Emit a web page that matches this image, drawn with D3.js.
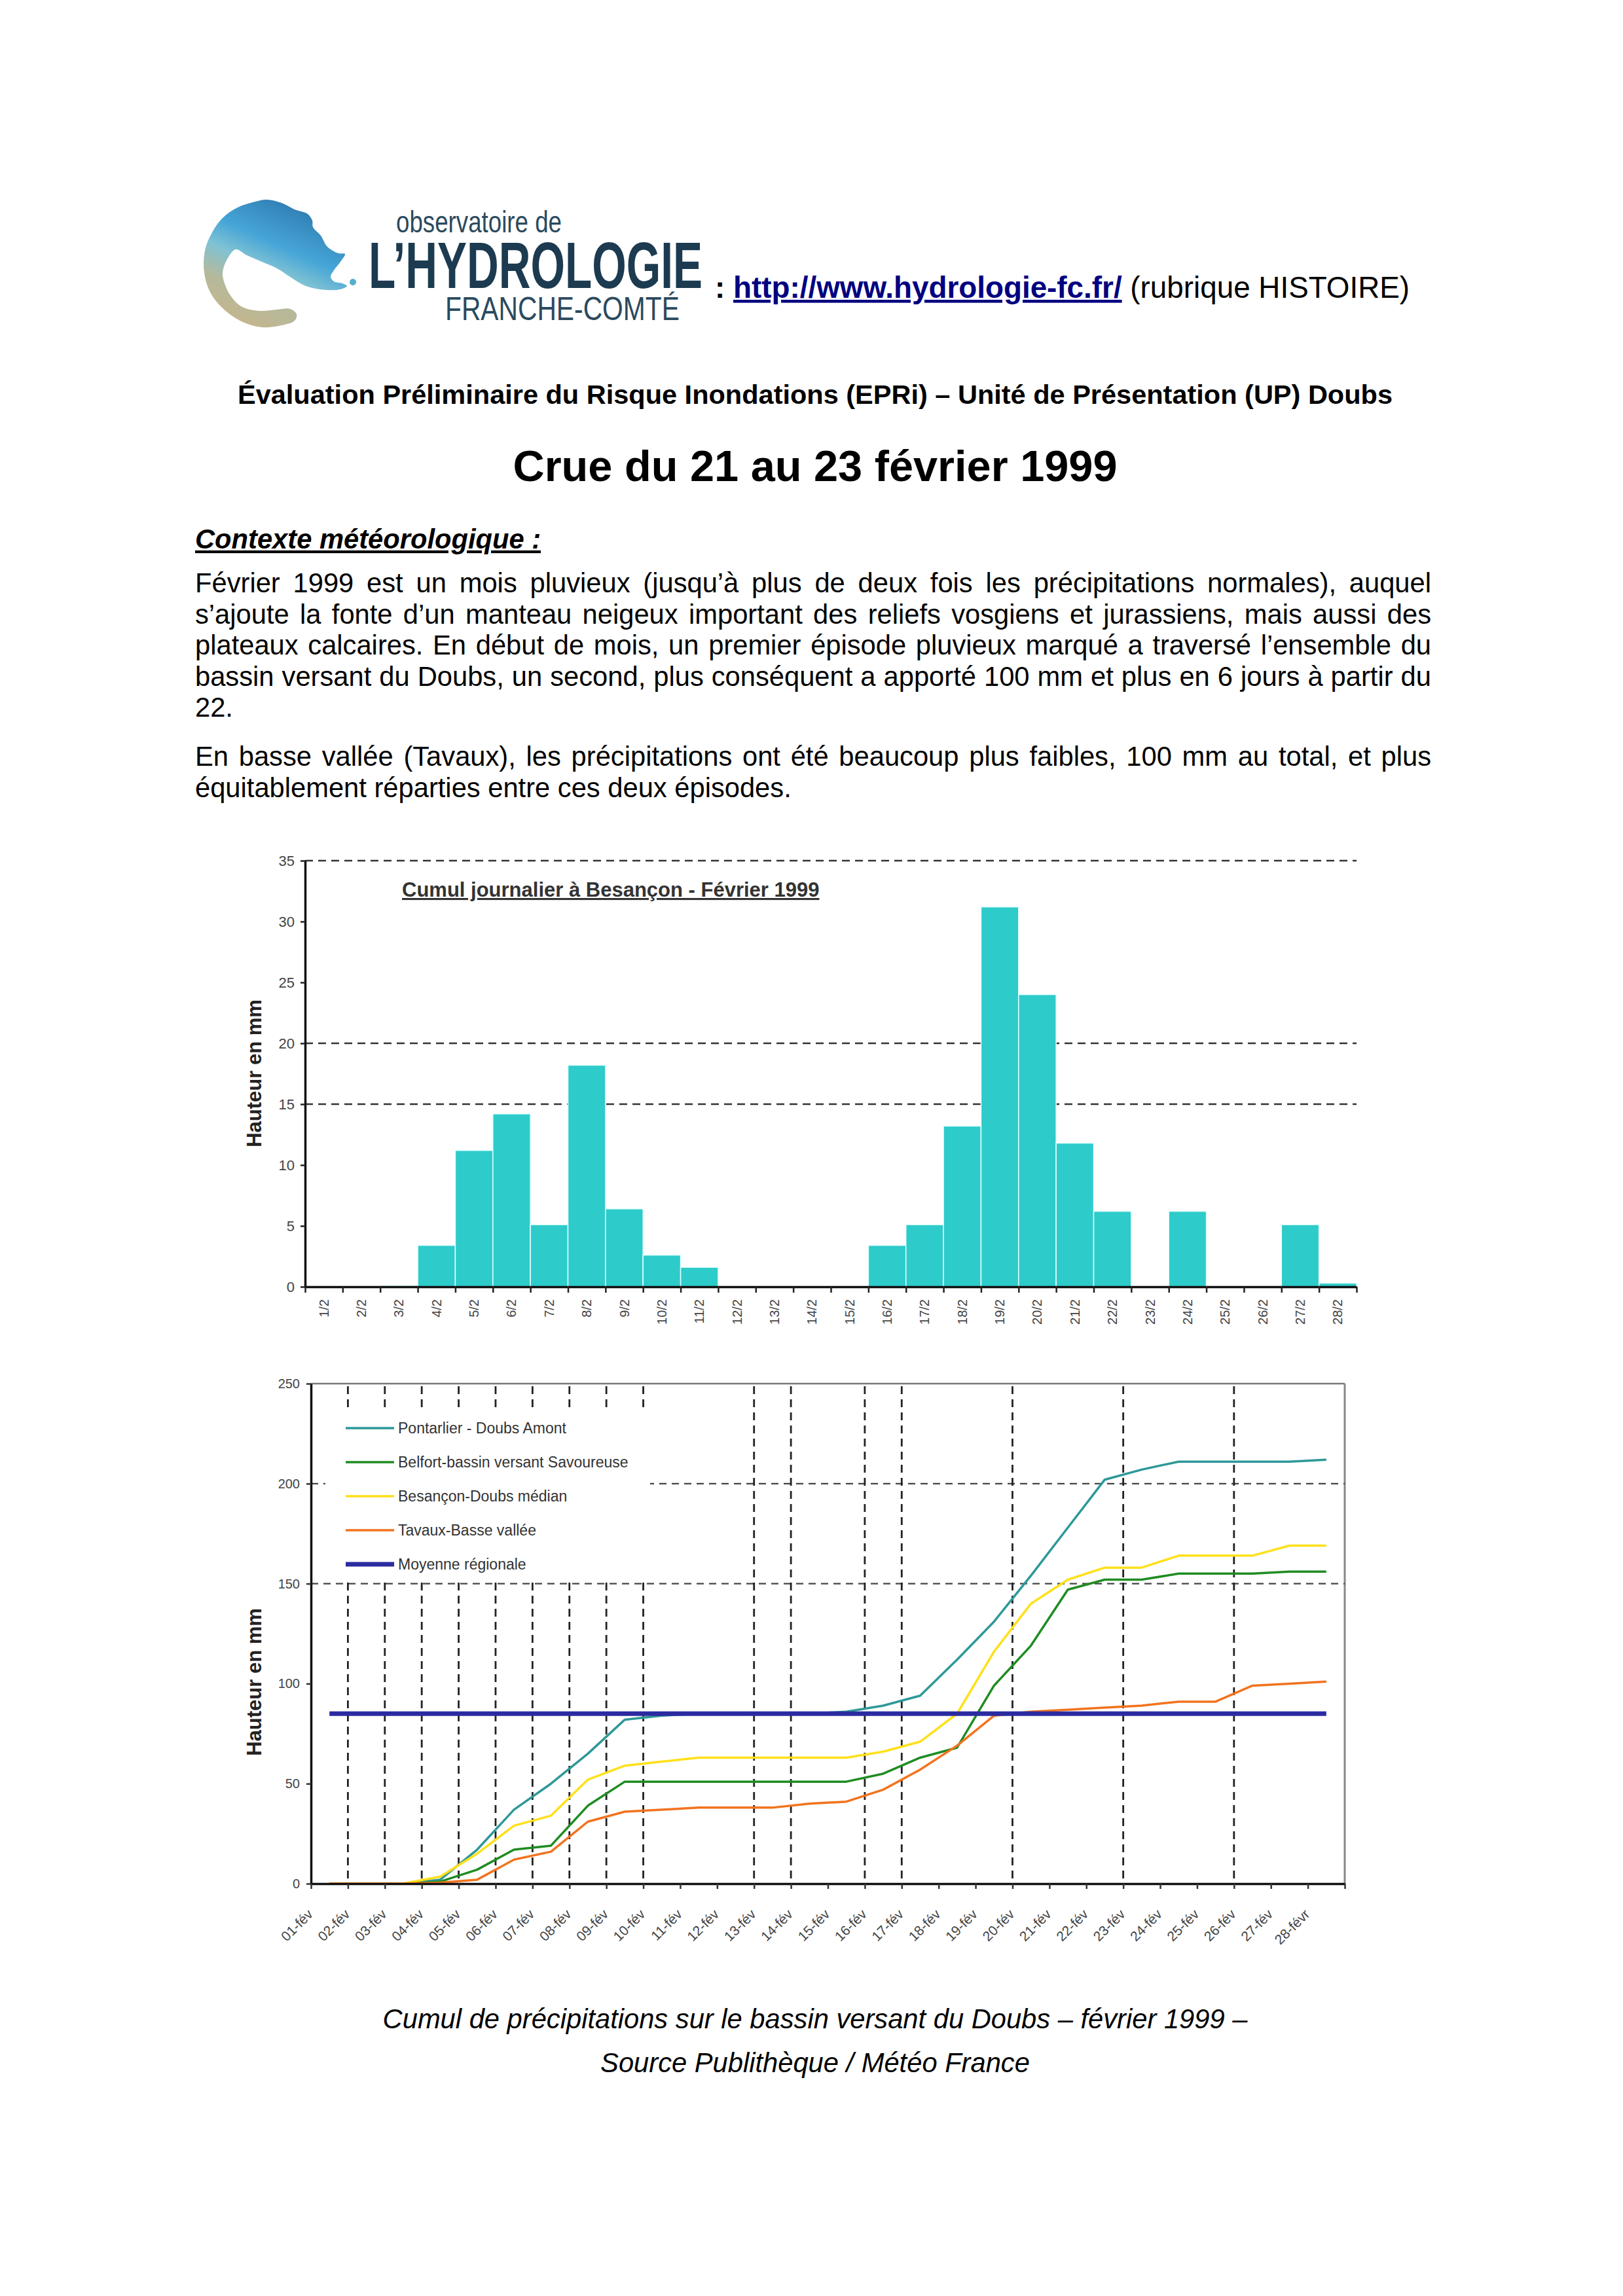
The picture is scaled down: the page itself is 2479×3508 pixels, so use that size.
<!DOCTYPE html>
<html>
<head>
<meta charset="utf-8">
<script src="https://cdn.jsdelivr.net/npm/d3@7"></script>
<style>
body { margin: 0; background: #fff; }
svg { display: block; }
text { font-family: "Liberation Sans", Arial, sans-serif; }
</style>
</head>
<body>
<script>
// --- bar chart : cumul journalier Besançon
var barDays = ["1/2","2/2","3/2","4/2","5/2","6/2","7/2","8/2","9/2","10/2","11/2","12/2","13/2","14/2",
               "15/2","16/2","17/2","18/2","19/2","20/2","21/2","22/2","23/2","24/2","25/2","26/2","27/2","28/2"];
var besanconDaily = [0, 0, 0.1, 3.4, 11.2, 14.2, 5.1, 18.2, 6.4, 2.6, 1.6, 0, 0, 0,
                     0, 3.4, 5.1, 13.2, 31.2, 24.0, 11.8, 6.2, 0, 6.2, 0, 0, 5.1, 0.3];
var barTicks = [0, 5, 10, 15, 20, 25, 30, 35];
var barGrid = [15, 20, 35];

// --- line chart : cumul de précipitations
var lineDays = ["01-fév","02-fév","03-fév","04-fév","05-fév","06-fév","07-fév","08-fév","09-fév","10-fév",
                "11-fév","12-fév","13-fév","14-fév","15-fév","16-fév","17-fév","18-fév","19-fév","20-fév",
                "21-fév","22-fév","23-fév","24-fév","25-fév","26-fév","27-fév","28-févr"];
var pontarlier = [0, 0, 0, 2, 17, 37, 50, 65, 82, 84, 85, 85, 85, 85,
                  86, 89, 94, 112, 131, 154, 178, 202, 207, 211, 211, 211, 211, 212];
var belfort = [0, 0, 0, 1, 7, 17, 19, 39, 51, 51, 51, 51, 51, 51,
               51, 55, 63, 68, 99, 119, 147, 152, 152, 155, 155, 155, 156, 156];
var besancon = [0, 0, 0.1, 3.5, 15, 29, 34, 52, 59, 61, 63, 63, 63, 63,
                63, 66, 71, 85, 116, 140, 152, 158, 158, 164, 164, 164, 169, 169];
var tavaux = [0, 0, 0, 0.5, 2, 12, 16, 31, 36, 37, 38, 38, 38, 40,
              41, 47, 57, 69, 84, 86, 87, 88, 89, 91, 91, 99, 100, 101];
var moyenne = [85, 85, 85, 85, 85, 85, 85, 85, 85, 85, 85, 85, 85, 85,
               85, 85, 85, 85, 85, 85, 85, 85, 85, 85, 85, 85, 85, 85];
var seriesNames = ["Pontarlier - Doubs Amont", "Belfort-bassin versant Savoureuse", "Besançon-Doubs médian",
                   "Tavaux-Basse vallée", "Moyenne régionale"];
var seriesValues = [pontarlier, belfort, besancon, tavaux, moyenne];
var seriesColors = ["#2e9898", "#1f8c22", "#ffe01a", "#f2731e", "#2b2ba0"];
var lineTicks = [0, 50, 100, 150, 200, 250];
var lineHGrid = [150, 200];
var lineVGrid = [1, 2, 3, 4, 5, 6, 7, 8, 9, 12, 13, 15, 16, 19, 22, 25];

var para1 = ["Février 1999 est un mois pluvieux (jusqu’à plus de deux fois les précipitations normales), auquel",
             "s’ajoute la fonte d’un manteau neigeux important des reliefs vosgiens et jurassiens, mais aussi des",
             "plateaux calcaires. En début de mois, un premier épisode pluvieux marqué a traversé l’ensemble du",
             "bassin versant du Doubs, un second, plus conséquent a apporté 100 mm et plus en 6 jours à partir du",
             "22."];
var para2 = ["En basse vallée (Tavaux), les précipitations ont été beaucoup plus faibles, 100 mm au total, et plus",
             "équitablement réparties entre ces deux épisodes."];

var w = 2479, h = 3508;
var svg = d3.select("body").append("svg").attr("width", w).attr("height", h);
svg.append("rect").attr("width", w).attr("height", h).attr("fill", "#fff");

// ---------- header / logo
var defs = svg.append("defs");
var grad = defs.append("linearGradient").attr("id", "logoGrad")
    .attr("x1", 0.75).attr("y1", 0).attr("x2", 0.25).attr("y2", 1);
[["0", "#2a74aa"], ["0.38", "#47a6d7"], ["0.55", "#80c2d3"], ["0.75", "#b5b99c"], ["1", "#c5b58c"]]
    .forEach(function(s){ grad.append("stop").attr("offset", s[0]).attr("stop-color", s[1]); });

// logo outline (C-shaped ring with the blue "head" to the right)
var logoOutline = [[340,333],[363,317],[390,308],[407,305],[430,310],[450,320],[470,327],[477,337],
                   [478,347],[490,360],[500,377],[517,387],[527,388],[520,400],[510,413],[505,423],
                   [510,430],[523,433],[530,437],[520,442],[497,443],[467,437],[443,423],[423,410],
                   [400,400],[377,390],[360,381],[346,398],[340,417],[343,433],[353,453],[370,469],
                   [397,475],[423,473],[443,472],[453,480],[450,490],[430,497],[400,500],[373,493],
                   [347,477],[323,450],[312,417],[313,383],[323,357]];
svg.append("path")
    .attr("d", d3.line().curve(d3.curveCatmullRomClosed.alpha(0.5))(logoOutline))
    .attr("fill", "url(#logoGrad)");
svg.append("circle").attr("cx", 539).attr("cy", 431).attr("r", 5).attr("fill", "#55aecb");

// condensed logo lettering: squeeze the glyphs horizontally to the measured width
var narrow = "'Liberation Sans Narrow', 'Liberation Sans', Arial, sans-serif";
function logoText(str, x, y, size, width, weight, color) {
    var t = svg.append("text").attr("font-size", size).attr("font-weight", weight)
        .attr("font-family", narrow).attr("fill", color).text(str);
    var nat = t.node().getComputedTextLength();
    t.attr("transform", "translate(" + x + "," + y + ") scale(" + (width / nat) + ",1)");
}
logoText("observatoire de", 605, 355, 46, 253, "normal", "#2b4a5e");
logoText("L’HYDROLOGIE", 563, 440, 100, 510, "bold", "#1c3a50");
logoText("FRANCHE-COMTÉ", 680, 489, 50, 358, "normal", "#2b4a5e");

var url = svg.append("text").attr("x", 1092).attr("y", 455).attr("font-size", 45.8);
url.append("tspan").attr("font-weight", "bold").text(": ");
url.append("tspan").attr("font-weight", "bold").attr("fill", "#000080")
    .style("text-decoration", "underline").text("http://www.hydrologie-fc.fr/");
url.append("tspan").text(" (rubrique HISTOIRE)");

svg.append("text").attr("x", 1245).attr("y", 617).attr("text-anchor", "middle")
    .attr("font-size", 41.5).attr("font-weight", "bold")
    .text("Évaluation Préliminaire du Risque Inondations (EPRi) – Unité de Présentation (UP) Doubs");
svg.append("text").attr("x", 1245).attr("y", 735).attr("text-anchor", "middle")
    .attr("font-size", 66.7).attr("font-weight", "bold")
    .text("Crue du 21 au 23 février 1999");
svg.append("text").attr("x", 298).attr("y", 838).attr("font-size", 41.7)
    .attr("font-weight", "bold").attr("font-style", "italic").style("text-decoration", "underline")
    .text("Contexte météorologique :");

// justified paragraphs
var textLeft = 298, textWidth = 1888;
function writePara(lines, y0) {
    lines.forEach(function(line, i) {
        var t = svg.append("text").attr("x", textLeft).attr("y", y0 + i * 47.5)
            .attr("font-size", 41.7).text(line);
        if (i < lines.length - 1) {
            var n = line.split(" ").length - 1;
            var ws = 0;
            for (var k = 0; k < 4; k++) {
                var lw = t.node().getBBox().width;
                ws += (textWidth - lw) / n;
                t.style("word-spacing", ws + "px");
            }
        }
    });
}
writePara(para1, 905);
writePara(para2, 1170);

// ---------- bar chart
var bx = d3.scaleBand().domain(barDays).range([466, 2072]).padding(0);
var bxi = d3.scaleLinear().domain([0, barDays.length]).range([466, 2072]);
var by = d3.scaleLinear().domain([0, 35]).range([1966, 1315]);

svg.append("g").selectAll("line").data(barGrid).enter().append("line")
    .attr("x1", 466).attr("x2", 2072)
    .attr("y1", function(d){ return by(d); }).attr("y2", function(d){ return by(d); })
    .attr("stroke", "#333").attr("stroke-width", 2.5).attr("stroke-dasharray", "12,8");

svg.append("g").selectAll("rect").data(besanconDaily).enter().append("rect")
    .attr("x", function(d, i){ return bx(barDays[i]); })
    .attr("y", function(d){ return by(d); })
    .attr("width", bx.bandwidth())
    .attr("height", function(d){ return by(0) - by(d); })
    .attr("fill", "#2ecbcb")
    .attr("stroke", "#e6ffff").attr("stroke-width", 1.5);

var byAxis = svg.append("g").attr("transform", "translate(466,0)")
    .call(d3.axisLeft(by).tickValues(barTicks).tickSize(7).tickSizeOuter(0).tickPadding(9));
var bxAxis = svg.append("g").attr("transform", "translate(0,1966)")
    .call(d3.axisBottom(bxi).tickValues(d3.range(barDays.length + 1)).tickSize(9)
          .tickSizeOuter(0).tickFormat(""));
[byAxis, bxAxis].forEach(function(g){
    g.select(".domain").attr("stroke", "#111").attr("stroke-width", 3.5);
    g.selectAll(".tick line").attr("stroke", "#222").attr("stroke-width", 2.5);
    g.selectAll("text").attr("font-size", 22).attr("fill", "#444")
        .attr("font-family", "'Liberation Sans', Arial, sans-serif");
});

svg.append("g").selectAll("text").data(barDays).enter().append("text")
    .attr("transform", function(d){ return "translate(" + (bx(d) + bx.bandwidth() / 2) + ",1985) rotate(-90)"; })
    .attr("text-anchor", "end").attr("dominant-baseline", "central")
    .attr("font-size", 20).attr("fill", "#444")
    .text(function(d){ return d; });

svg.append("text").attr("x", 614).attr("y", 1370).attr("font-size", 31).attr("font-weight", "bold")
    .attr("fill", "#333").style("text-decoration", "underline")
    .text("Cumul journalier à Besançon - Février 1999");
svg.append("text").attr("transform", "translate(388,1640) rotate(-90)")
    .attr("text-anchor", "middle").attr("dominant-baseline", "central")
    .attr("font-size", 31).attr("font-weight", "bold").attr("fill", "#222")
    .text("Hauteur en mm");

// ---------- line chart
var lx = d3.scaleBand().domain(lineDays).range([475, 2054]).padding(0);
var lxi = d3.scaleLinear().domain([0, lineDays.length]).range([475, 2054]);
var ly = d3.scaleLinear().domain([0, 250]).range([2878, 2114]);

// plot frame top / right
svg.append("line").attr("x1", lxi(0)).attr("x2", lxi(28)).attr("y1", ly(250)).attr("y2", ly(250))
    .attr("stroke", "#777").attr("stroke-width", 2.5);
svg.append("line").attr("x1", lxi(28)).attr("x2", lxi(28)).attr("y1", ly(250)).attr("y2", ly(0))
    .attr("stroke", "#888").attr("stroke-width", 3);

svg.append("g").selectAll("line").data(lineHGrid).enter().append("line")
    .attr("x1", lxi(0)).attr("x2", lxi(28))
    .attr("y1", function(d){ return ly(d); }).attr("y2", function(d){ return ly(d); })
    .attr("stroke", "#444").attr("stroke-width", 2.2).attr("stroke-dasharray", "11,8");
svg.append("g").selectAll("line").data(lineVGrid).enter().append("line")
    .attr("x1", function(d){ return lxi(d); }).attr("x2", function(d){ return lxi(d); })
    .attr("y1", ly(250) + 4).attr("y2", ly(0))
    .attr("stroke", "#222").attr("stroke-width", 2.8).attr("stroke-dasharray", "12,8");

// legend box hides the grid behind it
svg.append("rect").attr("x", 497).attr("y", 2152).attr("width", 496).attr("height", 264).attr("fill", "#fff");

var line = d3.line()
    .x(function(d, i){ return lx(lineDays[i]) + lx.bandwidth() / 2; })
    .y(function(d){ return ly(d); });
seriesValues.forEach(function(vals, k){
    svg.append("path").attr("d", line(vals)).attr("fill", "none")
        .attr("stroke", seriesColors[k]).attr("stroke-width", k === 4 ? 7 : 3.5)
        .attr("stroke-linejoin", "round");
});

var lyAxis = svg.append("g").attr("transform", "translate(475,0)")
    .call(d3.axisLeft(ly).tickValues(lineTicks).tickSize(7).tickSizeOuter(0).tickPadding(10));
var lxAxis = svg.append("g").attr("transform", "translate(0," + ly(0) + ")")
    .call(d3.axisBottom(lxi).tickValues(d3.range(lineDays.length + 1)).tickSize(8)
          .tickSizeOuter(0).tickFormat(""));
[lyAxis, lxAxis].forEach(function(g){
    g.select(".domain").attr("stroke", "#111").attr("stroke-width", 3.5);
    g.selectAll(".tick line").attr("stroke", "#333").attr("stroke-width", 2.5);
    g.selectAll("text").attr("font-size", 20).attr("fill", "#444")
        .attr("font-family", "'Liberation Sans', Arial, sans-serif");
});

svg.append("g").selectAll("text").data(lineDays).enter().append("text")
    .attr("transform", function(d){
        return "translate(" + (lx(d) + lx.bandwidth() / 2 - 24) + "," + (ly(0) + 48) + ") rotate(-45)";
    })
    .attr("text-anchor", "end").attr("font-size", 21).attr("fill", "#444")
    .text(function(d){ return d; });

var legend = svg.append("g").selectAll("g").data(seriesNames).enter().append("g")
    .attr("transform", function(d, i){ return "translate(528," + (2182 + i * 52) + ")"; });
legend.append("line").attr("x1", 0).attr("x2", 74).attr("y1", 0).attr("y2", 0)
    .attr("stroke", function(d, i){ return seriesColors[i]; })
    .attr("stroke-width", function(d, i){ return i === 4 ? 7 : 3.5; });
legend.append("text").attr("x", 80).attr("dominant-baseline", "central")
    .attr("font-size", 23).attr("fill", "#333").text(function(d){ return d; });

svg.append("text").attr("transform", "translate(388,2570) rotate(-90)")
    .attr("text-anchor", "middle").attr("dominant-baseline", "central")
    .attr("font-size", 31).attr("font-weight", "bold").attr("fill", "#222")
    .text("Hauteur en mm");

// ---------- caption
svg.append("text").attr("x", 1245).attr("y", 3099).attr("text-anchor", "middle")
    .attr("font-size", 41.7).attr("font-style", "italic")
    .text("Cumul de précipitations sur le bassin versant du Doubs – février 1999 –");
svg.append("text").attr("x", 1245).attr("y", 3166).attr("text-anchor", "middle")
    .attr("font-size", 41.7).attr("font-style", "italic")
    .text("Source Publithèque / Météo France");
</script>
</body>
</html>
